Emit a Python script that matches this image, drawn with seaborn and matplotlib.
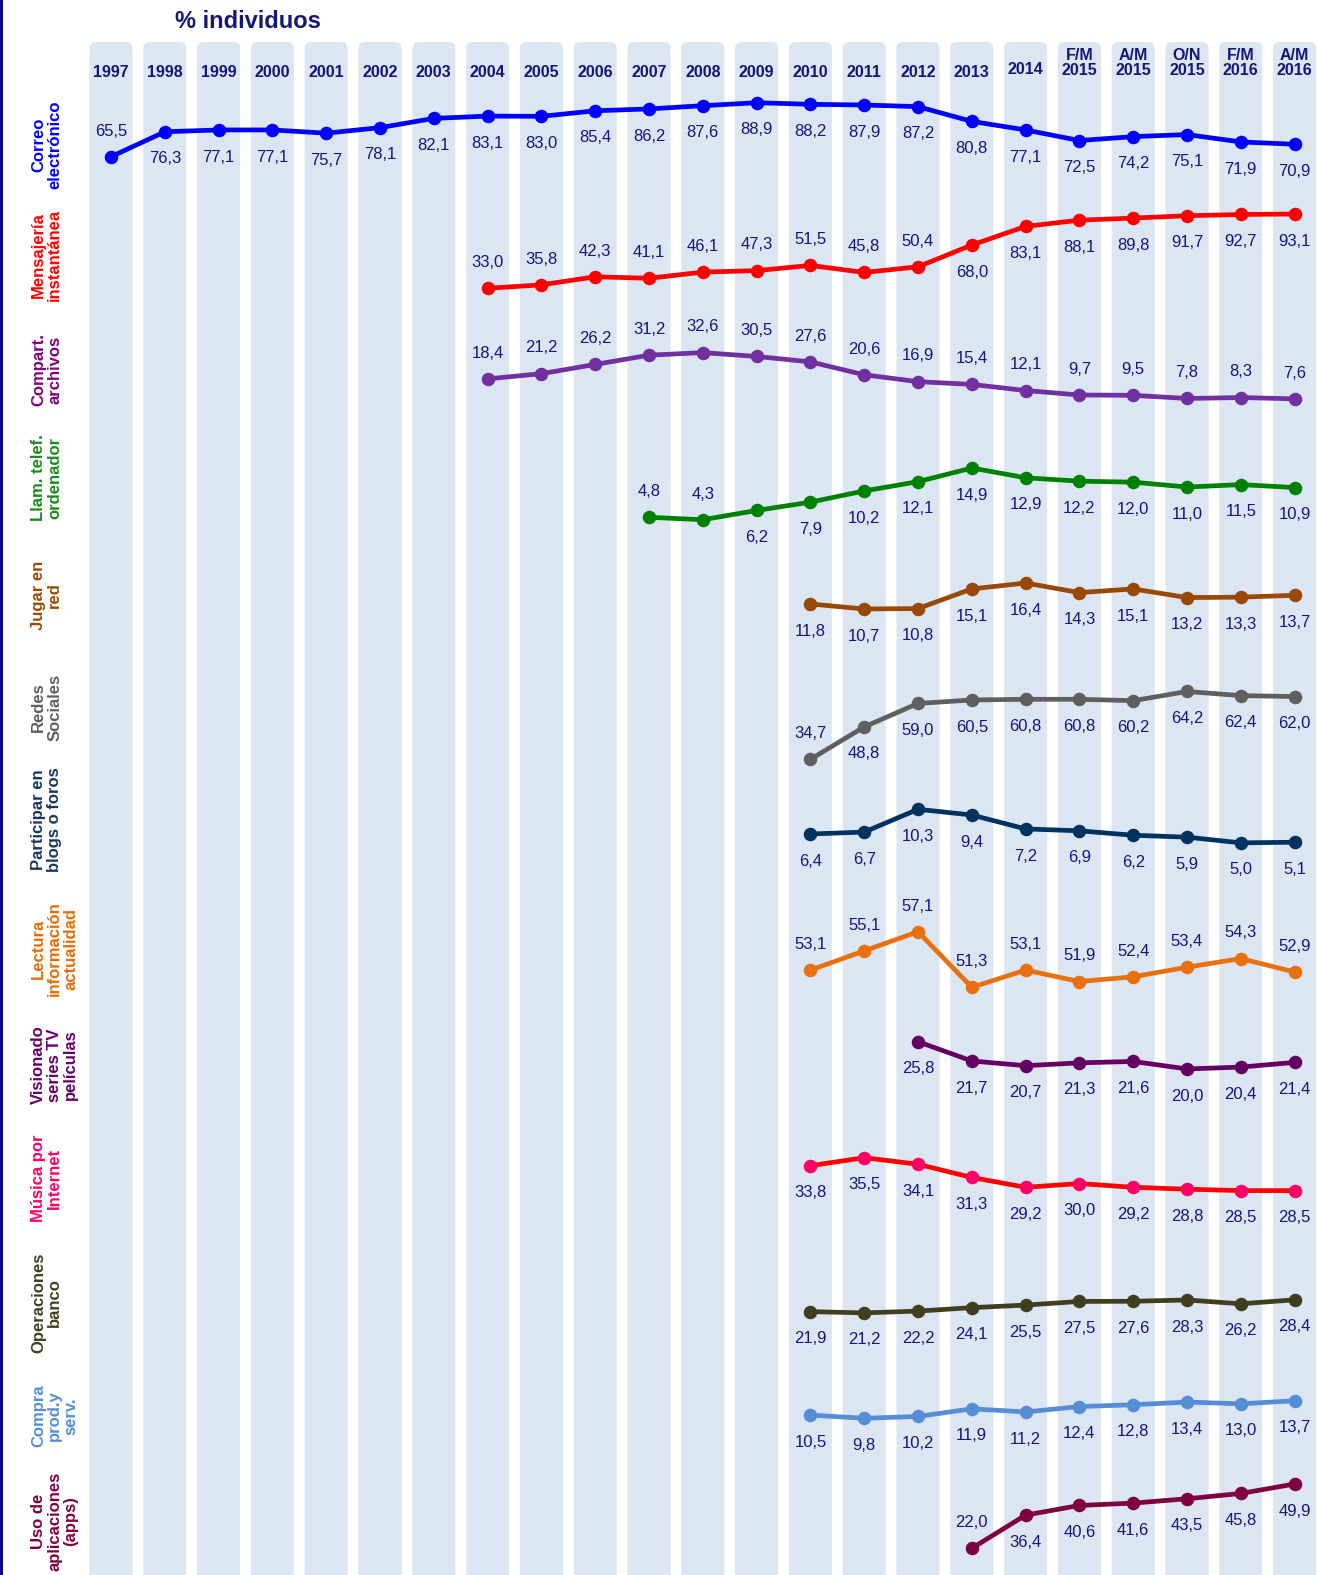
import numpy as np
import pandas as pd
import matplotlib
matplotlib.use("Agg")
import matplotlib.pyplot as plt
import seaborn as sns
from matplotlib.patches import FancyBboxPatch, Rectangle

# ---------------- data ----------------
columns = ["1997", "1998", "1999", "2000", "2001", "2002", "2003", "2004", "2005",
           "2006", "2007", "2008", "2009", "2010", "2011", "2012", "2013", "2014",
           "F/M\n2015", "A/M\n2015", "O/N\n2015", "F/M\n2016", "A/M\n2016"]

title = "% individuos"

correo = [65.5, 76.3, 77.1, 77.1, 75.7, 78.1, 82.1, 83.1, 83.0, 85.4, 86.2, 87.6,
          88.9, 88.2, 87.9, 87.2, 80.8, 77.1, 72.5, 74.2, 75.1, 71.9, 70.9]
mensajeria = [33.0, 35.8, 42.3, 41.1, 46.1, 47.3, 51.5, 45.8, 50.4, 68.0, 83.1,
              88.1, 89.8, 91.7, 92.7, 93.1]
compartir = [18.4, 21.2, 26.2, 31.2, 32.6, 30.5, 27.6, 20.6, 16.9, 15.4, 12.1,
             9.7, 9.5, 7.8, 8.3, 7.6]
llamadas = [4.8, 4.3, 6.2, 7.9, 10.2, 12.1, 14.9, 12.9, 12.2, 12.0, 11.0, 11.5, 10.9]
jugar = [11.8, 10.7, 10.8, 15.1, 16.4, 14.3, 15.1, 13.2, 13.3, 13.7]
redes = [34.7, 48.8, 59.0, 60.5, 60.8, 60.8, 60.2, 64.2, 62.4, 62.0]
blogs = [6.4, 6.7, 10.3, 9.4, 7.2, 6.9, 6.2, 5.9, 5.0, 5.1]
lectura = [53.1, 55.1, 57.1, 51.3, 53.1, 51.9, 52.4, 53.4, 54.3, 52.9]
series_tv = [25.8, 21.7, 20.7, 21.3, 21.6, 20.0, 20.4, 21.4]
musica = [33.8, 35.5, 34.1, 31.3, 29.2, 30.0, 29.2, 28.8, 28.5, 28.5]
banco = [21.9, 21.2, 22.2, 24.1, 25.5, 27.5, 27.6, 28.3, 26.2, 28.4]
compra = [10.5, 9.8, 10.2, 11.9, 11.2, 12.4, 12.8, 13.4, 13.0, 13.7]
apps = [22.0, 36.4, 40.6, 41.6, 43.5, 45.8, 49.9]

row_labels = ["Correo\nelectrónico", "Mensajería\ninstantánea", "Compart.\narchivos",
              "Llam. telef.\nordenador", "Jugar en\nred", "Redes\nSociales",
              "Participar en\nblogs o foros", "Lectura\ninformación\nactualidad",
              "Visionado\nseries TV\npelículas", "Música por\nInternet",
              "Operaciones\nbanco", "Compra\nprod.y\nserv.", "Uso de\naplicaciones\n(apps)"]
row_values = [correo, mensajeria, compartir, llamadas, jugar, redes, blogs, lectura,
              series_tv, musica, banco, compra, apps]
row_start = ["1997", "2004", "2004", "2007", "2010", "2010", "2010", "2010",
             "2012", "2010", "2010", "2010", "2013"]

# ---------------- styles / layout ----------------
W, H = 1317, 1575
SP = 53.8          # px per column
X0 = 111.0         # px of first column centre
NAVY = "#15157A"

line_colors = ["#0000FF", "#FF0000", "#7030A0", "#008000", "#984807", "#5F5F5F",
               "#00325F", "#E8700F", "#650063", "#FF0000", "#3F3F1F", "#558ED5", "#7F003F"]
marker_colors = ["#0000FF", "#FF0000", "#7030A0", "#008000", "#984807", "#5F5F5F",
                 "#00325F", "#E8700F", "#650063", "#FF0066", "#3F3F1F", "#558ED5", "#7F003F"]
label_colors = ["#0000FF", "#FF0000", "#800080", "#1A8C1A", "#9C4A00", "#5F5F5F",
                "#17375E", "#E46C0A", "#660066", "#FF0066", "#404020", "#558ED5", "#800040"]
# per-row calibration: (reference value, pixel y of that value, pixels per unit)
calib = [(88.9, 102.7, 2.308), (93.1, 214.0, 1.236), (32.6, 352.6, 1.85),
         (14.9, 468.0, 4.88), (16.4, 583.0, 4.56), (60.8, 699.3, 2.30),
         (10.3, 809.3, 6.33), (57.1, 931.7, 9.59), (25.8, 1041.7, 4.70),
         (35.5, 1157.7, 4.70), (28.4, 1299.8, 1.82), (13.7, 1400.7, 4.50),
         (49.9, 1484.0, 2.305)]
# which points have their label above (others below)
above = [{0}, set(range(9)), set(range(16)), {0, 1}, set(), {0}, set(),
         set(range(10)), set(), set(), set(), set(), {0}]
label_y = [145, 255, 370, 478, 595, 707, 820, 949, 1065, 1178, 1303, 1416, 1521]

sns.set_theme(style="white")
plt.rcParams["font.family"] = ["Liberation Sans", "DejaVu Sans"]

fig = plt.figure(figsize=(W / 100, H / 100), dpi=100)
fig.patch.set_facecolor("white")

xlim = (-X0 / SP, (W - X0) / SP)

# background column bars
bg = fig.add_axes([0, 0, 1, 1])
bar_top = (H - 42) / SP
sns.barplot(x=columns, y=[bar_top] * len(columns), order=columns, ax=bg,
            color="#DCE6F2", width=0.8, saturation=1)
old = list(bg.patches)
for p in old:
    x, w = p.get_x(), p.get_width()
    h = p.get_height()
    p.remove()
    bg.add_patch(FancyBboxPatch((x, -1), w, h + 1,
                                boxstyle="round,pad=0,rounding_size=0.12",
                                facecolor="#DCE6F2", edgecolor="none"))
bg.set_xlim(*xlim)
bg.set_ylim(0, H / SP)
bg.axis("off")

for i, lab in enumerate(columns):
    n = lab.count("\n") + 1
    ypx = 73 if n == 1 else 63
    if lab == "2014":
        ypx = 70
    bg.text(i, (H - ypx) / SP, lab, ha="center", va="center", fontsize=11.5,
            fontweight="bold", color=NAVY, linespacing=1.05)

fig.text(248 / W, 1 - 22 / H, title, ha="center", va="center", fontsize=17,
         fontweight="bold", color=NAVY)

# rows
for r, vals in enumerate(row_values):
    start = columns.index(row_start[r])
    xs = np.arange(start, start + len(vals))
    df = pd.DataFrame({"x": xs, "v": vals})
    v1, y1, k = calib[r]
    ax = fig.add_axes([0, 0, 1, 1])
    ax.patch.set_alpha(0)
    sns.lineplot(data=df, x="x", y="v", ax=ax, color=line_colors[r], linewidth=3.4,
                 solid_capstyle="round", zorder=3)
    sns.scatterplot(data=df, x="x", y="v", ax=ax, color=marker_colors[r], s=95,
                    linewidth=0, zorder=4)
    for i, (x, v) in enumerate(zip(xs, vals)):
        off = 18.5 if i in above[r] else -19.5
        ax.annotate(f"{v:.1f}".replace(".", ","), (x, v), xytext=(0, off),
                    textcoords="offset points", ha="center", va="center",
                    fontsize=12, color=NAVY)
    ax.set_xlim(*xlim)
    ax.set_ylim(v1 - (H - y1) / k, v1 + y1 / k)
    ax.axis("off")
    fig.text(31 / W, 1 - label_y[r] / H, row_labels[r], rotation=90, ha="left",
             va="center", multialignment="center", fontsize=12, fontweight="bold",
             color=label_colors[r], linespacing=1.1)

fig.add_artist(Rectangle((0, 0), 3 / W, 1, transform=fig.transFigure,
                         facecolor="#0A0A8C", edgecolor="none"))

fig.savefig("out.png", dpi=100, facecolor="white")
